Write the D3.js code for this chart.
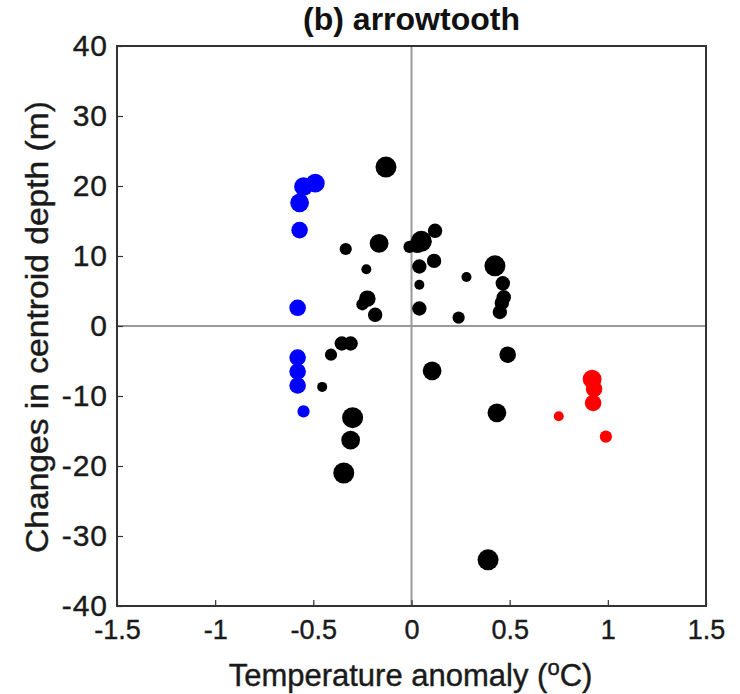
<!DOCTYPE html>
<html>
<head>
<meta charset="utf-8">
<script src="https://cdn.jsdelivr.net/npm/d3@7"></script>
<style>
  body { margin: 0; background: #fff; }
  text { font-family: "Liberation Sans", Arial, sans-serif; }
</style>
</head>
<body>
<div id="chart"></div>
<script>
// temperature anomaly (°C), change in centroid depth (m), marker weight
const blueX = [-0.49, -0.55, -0.57, -0.57, -0.58, -0.58, -0.58, -0.58, -0.55];
const blueY = [20.4, 19.9, 17.6, 13.7, 2.6, -4.5, -6.5, -8.5, -12.2];
const blueW = [5, 5, 5, 4, 4, 4, 4, 4, 2];

const redX = [0.92, 0.93, 0.925, 0.75, 0.99];
const redY = [-7.6, -9.0, -11.0, -12.9, -15.8];
const redW = [5, 4, 4, 1, 2];

const blackX = [-0.13, -0.335, -0.165, -0.23, -0.225, -0.25, -0.185, -0.01, 0.05, 0.03,
  0.12, 0.04, 0.115, 0.04, 0.04, 0.28, 0.24, 0.425, 0.465, 0.47, 0.46, 0.45,
  -0.355, -0.31, -0.41, -0.455, -0.30, -0.31, -0.345, 0.49, 0.105, 0.435, 0.39];
const blackY = [22.7, 11.0, 11.8, 8.1, 3.9, 3.1, 1.6, 11.3, 12.1, 11.6,
  13.6, 8.5, 9.3, 5.9, 2.5, 7.0, 1.2, 8.6, 6.1, 4.1, 3.3, 2.0,
  -2.5, -2.5, -4.1, -8.7, -13.1, -16.3, -21.0, -4.1, -6.4, -12.4, -33.4];
const blackW = [6, 2, 5, 1, 4, 2, 3, 2, 6, 4,
  3, 3, 3, 1, 3, 1, 2, 6, 3, 3, 3, 3,
  3, 3, 2, 1, 6, 5, 6, 4, 5, 5, 6];

const xTicks = [-1.5, -1, -0.5, 0, 0.5, 1, 1.5];
const yTicks = [-40, -30, -20, -10, 0, 10, 20, 30, 40];

const W = 740, H = 694;
const margin = { top: 46, right: 34, bottom: 88, left: 117 };
const width = W - margin.left - margin.right;
const height = H - margin.top - margin.bottom;

const svg = d3.select("#chart").append("svg")
    .attr("width", W)
    .attr("height", H);

const g = svg.append("g")
    .attr("transform", `translate(${margin.left},${margin.top})`);

const x = d3.scaleLinear().domain([-1.5, 1.5]).range([0, width]);
const y = d3.scaleLinear().domain([-40, 40]).range([height, 0]);
const r = d3.scaleLinear().domain([1, 6]).range([5, 10.5]);

// zero lines
g.append("line")
    .attr("x1", x(0)).attr("x2", x(0))
    .attr("y1", 0).attr("y2", height)
    .attr("stroke", "#9a9a9a").attr("stroke-width", 2);
g.append("line")
    .attr("x1", 0).attr("x2", width)
    .attr("y1", y(0)).attr("y2", y(0))
    .attr("stroke", "#9a9a9a").attr("stroke-width", 2);

function addSeries(xs, ys, ws, color) {
    const pts = xs.map((d, i) => ({ x: d, y: ys[i], w: ws[i] }));
    g.selectAll(null).data(pts).enter().append("circle")
        .attr("cx", d => x(d.x))
        .attr("cy", d => y(d.y))
        .attr("r", d => r(d.w))
        .attr("fill", color);
}
addSeries(blackX, blackY, blackW, "#000");
addSeries(blueX, blueY, blueW, "#0000ff");
addSeries(redX, redY, redW, "#ff0000");

// axes with inward ticks, hyphen minus like the original
const fmt = d => String(d);
const xAxis = g.append("g")
    .attr("transform", `translate(0,${height})`)
    .call(d3.axisBottom(x).tickValues(xTicks).tickSizeInner(-6).tickSizeOuter(0)
        .tickPadding(14).tickFormat(fmt));
const yAxis = g.append("g")
    .call(d3.axisLeft(y).tickValues(yTicks).tickSizeInner(-6).tickSizeOuter(0)
        .tickPadding(9).tickFormat(fmt));

[xAxis, yAxis].forEach(a => {
    a.select(".domain").remove();
    a.selectAll(".tick line").attr("stroke", "#333").attr("stroke-width", 1.2);
    a.selectAll(".tick text")
        .attr("fill", "#1a1a1a")
        .attr("stroke", "#1a1a1a").attr("stroke-width", 0.4);
});
xAxis.selectAll(".tick text").style("font-size", "27px");
yAxis.selectAll(".tick text").style("font-size", "30px").style("letter-spacing", "1px");

// frame
g.append("rect")
    .attr("width", width).attr("height", height)
    .attr("fill", "none")
    .attr("stroke", "#333").attr("stroke-width", 2);

// title
svg.append("text")
    .attr("x", margin.left + width / 2)
    .attr("y", 30)
    .attr("text-anchor", "middle")
    .style("font-size", "32px")
    .style("font-weight", "bold")
    .attr("fill", "#111")
    .text("(b) arrowtooth");

// x label
const xl = svg.append("text")
    .attr("x", margin.left + width / 2 - 1)
    .attr("y", 686)
    .attr("text-anchor", "middle")
    .style("font-size", "31px")
    .attr("fill", "#1a1a1a")
    .attr("stroke", "#1a1a1a").attr("stroke-width", 0.4);
xl.append("tspan").text("Temperature anomaly (");
xl.append("tspan").attr("dy", -11).style("font-size", "22px").text("o");
xl.append("tspan").attr("dy", 11).text("C)");

// y label
svg.append("text")
    .attr("transform", `translate(48,${margin.top + height / 2 + 1}) rotate(-90)`)
    .attr("text-anchor", "middle")
    .attr("textLength", 452)
    .attr("lengthAdjust", "spacingAndGlyphs")
    .style("font-size", "31px")
    .attr("fill", "#1a1a1a")
    .attr("stroke", "#1a1a1a").attr("stroke-width", 0.4)
    .text("Changes in centroid depth (m)");
</script>
</body>
</html>
